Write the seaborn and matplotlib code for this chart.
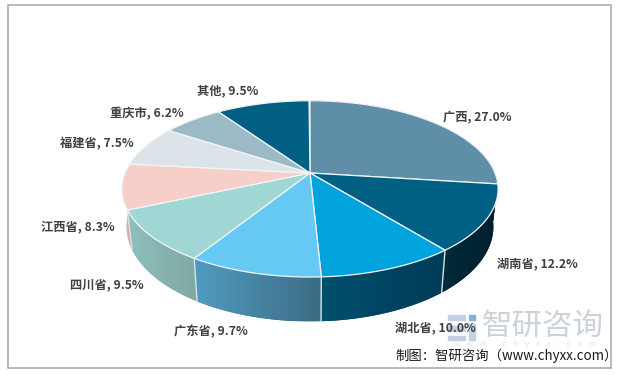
import numpy as np
import matplotlib.pyplot as plt
import matplotlib.patches as mpatches
import seaborn as sns

provinces = ["广西", "湖南省", "湖北省", "广东省", "四川省", "江西省", "福建省", "重庆市", "其他"]
shares = [27.0, 12.2, 10.0, 9.7, 9.5, 8.3, 7.5, 6.2, 9.5]

top_colors = ["#5f8ea8", "#006083", "#00a3dc", "#66c9f4", "#a0d6d3", "#f6d0c8", "#dce4ea", "#9cb9c6", "#005f83"]
# side wall gradient, left to right
wall_left = ["#00293a", "#002a3b", "#004f6e", "#4f9cc0", "#8fc0bc", "#e8b8ae", "#c0c8cc", "#88a0ac", "#004f6e"]
wall_right = ["#00202e", "#001f2d", "#003c58", "#3d6b84", "#80a8a3", "#d0a49c", "#c0c8cc", "#88a0ac", "#004f6e"]
label_pos = [(477, 117), (537, 264), (435, 328), (211, 332), (107, 285), (78, 227), (97, 144), (147, 114), (228, 91)]

sns.set_theme(style="white")
plt.rcParams['font.family'] = ['Noto Sans CJK SC', 'DejaVu Sans']

fig, ax = plt.subplots(figsize=(6.22, 3.75), dpi=100)
ax.set_position([0, 0, 1, 1])
ax.set_xlim(0, 622)
ax.set_ylim(375, 0)
ax.axis("off")


# perspective view of the disc, top face and bottom face
def rim(theta, lower=False):
    x = np.sin(theta)
    y = -np.cos(theta)
    w = 1 - 0.18 * y
    if lower:
        return 310 + 0.975 * 185 * x / w, 209.6 + 91.7 * y / w
    return 310 + 185 * x / w, 173 + 85.3 * y / w


edges = np.cumsum([0] + shares) / 100 * 2 * np.pi
n = len(shares)

# watermark sits under the pie labels
ax.text(542.5, 326, "智研咨询", fontsize=22, color="#cbd2d9", ha="center", va="center")
ax.text(525, 344.5, "w    w    w    .    c    h    y    x    x    .    c    o    m", fontsize=5.5,
        color="#dde2e6", ha="center", va="center")
ax.add_patch(mpatches.Rectangle((448, 315), 17, 5, color="#c3cfe2"))
ax.add_patch(mpatches.Rectangle((448, 326), 17, 5, color="#c3cfe2"))
ax.add_patch(mpatches.Rectangle((448, 336), 17, 4, color="#c3cfe2"))
ax.add_patch(mpatches.Rectangle((469, 315), 6, 5, color="#7fb2e0"))
ax.add_patch(mpatches.Rectangle((469, 324), 6, 16, color="#c3cfe2"))

# walls, furthest first
order = sorted(range(n), key=lambda i: -np.cos((edges[i] + edges[i + 1]) / 2))
for i in order:
    t = np.linspace(edges[i], edges[i + 1], 80)
    ux, uy = rim(t)
    lx, ly = rim(t, lower=True)
    px = np.r_[ux, lx[::-1]]
    py = np.r_[uy, ly[::-1]]
    poly = ax.fill(px, py, color=wall_right[i], lw=0, zorder=2)[0]
    c0 = np.array(plt.matplotlib.colors.to_rgb(wall_left[i]))
    c1 = np.array(plt.matplotlib.colors.to_rgb(wall_right[i]))
    grad = np.linspace(0, 1, 64)[None, :, None] * (c1 - c0) + c0
    im = ax.imshow(grad, extent=(px.min(), px.max(), py.max(), py.min()), aspect="auto", zorder=2.1)
    im.set_clip_path(poly)

for e in edges:
    if -np.cos(e) > 0.2:
        ux, uy = rim(e)
        lx, ly = rim(e, lower=True)
        ax.plot([ux, lx], [uy, ly], color="#d8e2e8", lw=1.0, zorder=3)

# top face
for i in range(n):
    t = np.linspace(edges[i], edges[i + 1], 80)
    ux, uy = rim(t)
    ax.fill(np.r_[310, ux], np.r_[173, uy], facecolor=top_colors[i], edgecolor="#f2f5f7", lw=0.9, zorder=4)

ax.set_xlim(0, 622)
ax.set_ylim(375, 0)

for name, val, (lx, ly) in zip(provinces, shares, label_pos):
    ax.text(lx, ly, f"{name}, {val:.1f}%", fontsize=8.8, fontweight="bold", color="#404040",
            ha="center", va="center", zorder=6)

ax.text(507, 356, "制图：智研咨询（www.chyxx.com）", fontsize=9.6, color="#1a1a1a", ha="center", va="center", zorder=6)

ax.add_patch(mpatches.Rectangle((8, 5), 603, 363, fill=False, edgecolor="#a6a6a6", lw=1.1, zorder=7))

fig.savefig("out.png", dpi=100, facecolor="white")
